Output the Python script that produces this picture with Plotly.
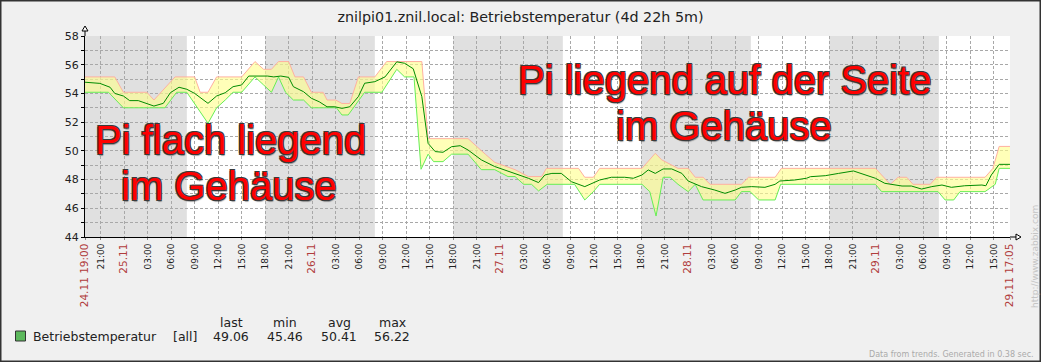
import plotly.graph_objects as go
from datetime import datetime, timedelta

# ---------------- data ----------------
START = datetime(2013, 11, 24, 19, 0)
END = START + timedelta(days=4, hours=22, minutes=5)

# (hours since start, value)
max_pts = [(0, 55.15), (3.8, 55.15), (4.9, 54.08), (7.9, 54.08), (8.8, 53.54), (11.5, 55.15),
           (14.0, 55.15), (14.7, 54.08), (15.7, 54.08), (16.8, 55.15), (20.0, 55.15), (21.7, 56.22),
           (22.8, 55.68), (23.8, 55.68), (24.7, 56.22), (26.0, 56.22), (26.8, 55.15), (27.9, 55.15),
           (28.9, 54.08), (30.4, 54.08), (30.9, 53.54), (32.0, 53.54), (32.8, 53.3), (33.8, 53.3),
           (34.9, 55.15), (37.0, 55.15), (38.5, 56.22), (43.0, 56.22), (43.8, 50.85), (48.9, 50.85),
           (51.1, 49.77), (52.3, 49.2), (54.9, 48.69), (56.6, 48.21), (58.3, 48.21), (58.9, 48.78),
           (63.0, 48.78), (63.8, 48.16), (64.9, 48.16), (65.7, 48.78), (71.1, 48.78), (72.8, 49.83),
           (73.6, 49.38), (75.7, 48.78), (77.0, 48.78), (77.9, 48.16), (78.9, 48.16), (79.8, 47.67),
           (83.8, 47.67), (84.7, 48.16), (88.1, 48.16), (88.9, 48.78), (100.9, 48.78), (102.8, 47.67),
           (103.8, 48.16), (104.9, 48.16), (105.7, 47.67), (107.9, 47.67), (108.7, 48.16), (114.9, 48.16),
           (115.9, 48.78), (116.7, 50.31), (118.08, 50.31)]

min_pts = [(0, 54.08), (3.0, 54.08), (4.9, 53.0), (10.2, 53.0), (11.7, 54.08), (13.0, 54.08),
           (15.7, 51.92), (16.8, 53.0), (17.9, 53.54), (18.9, 54.08), (20.0, 54.08), (21.7, 55.15),
           (22.8, 54.59), (23.8, 54.08), (24.7, 55.15), (25.6, 54.08), (26.6, 53.54), (27.9, 53.54),
           (28.9, 53.0), (32.1, 53.0), (32.8, 52.5), (33.6, 52.5), (35.7, 54.08), (37.9, 54.08),
           (39.8, 55.68), (40.8, 55.15), (42.0, 55.15), (42.9, 48.72), (43.8, 49.77), (44.5, 49.25),
           (45.7, 49.25), (46.8, 49.77), (48.9, 49.77), (50.6, 48.69), (52.3, 48.69), (54.0, 48.21),
           (54.9, 48.21), (56.0, 47.67), (57.0, 47.67), (57.9, 47.21), (59.0, 47.67), (62.5, 47.67),
           (63.8, 46.58), (64.9, 47.16), (65.7, 47.67), (71.1, 47.67), (72.1, 47.16), (72.9, 45.46),
           (73.8, 48.16), (74.7, 48.16), (75.7, 47.67), (77.0, 47.16), (77.9, 47.67), (78.9, 46.58),
           (83.0, 46.58), (83.8, 47.16), (84.9, 47.16), (86.0, 46.58), (88.1, 46.58), (88.8, 47.67),
           (100.9, 47.67), (101.7, 47.16), (108.9, 47.16), (109.8, 46.58), (110.9, 46.58), (111.7, 47.16),
           (114.9, 47.16), (116.2, 47.67), (116.7, 48.78), (118.08, 48.78)]

avg_pts = [(0, 54.78), (1.9, 54.70), (3.2, 54.43), (3.8, 54.0), (4.9, 53.82), (5.7, 53.5), (6.8, 53.5),
           (7.9, 53.31), (8.8, 53.12), (10.0, 53.31), (10.9, 54.05), (12.0, 54.43), (13.0, 54.29),
           (14.0, 54.0), (15.7, 53.31), (16.8, 53.82), (17.9, 54.05), (18.9, 54.47), (20.0, 54.59),
           (20.9, 55.21), (23.3, 55.21), (24.1, 55.15), (25.0, 55.21), (26.0, 55.12), (26.6, 54.47),
           (27.9, 54.12), (28.9, 53.66), (29.9, 53.42), (30.9, 53.07), (31.9, 53.07), (32.8, 52.96),
           (33.8, 53.07), (34.9, 53.78), (35.7, 54.71), (37.0, 54.82), (38.3, 55.15), (39.8, 56.2),
           (40.8, 56.1), (41.9, 55.72), (43.0, 53.78), (43.8, 50.52), (44.7, 49.95), (45.7, 49.9),
           (46.8, 50.29), (47.9, 50.36), (48.9, 50.06), (50.6, 49.37), (52.3, 48.91), (54.9, 48.44),
           (56.6, 48.09), (57.9, 47.79), (58.7, 48.32), (59.6, 48.43), (60.8, 48.43), (62.1, 47.85),
           (63.8, 47.51), (65.7, 47.97), (67.2, 48.16), (68.9, 48.16), (70.0, 48.09), (71.1, 48.32),
           (71.9, 48.67), (72.8, 48.43), (73.8, 48.74), (74.9, 48.74), (76.2, 48.43), (77.0, 47.9),
           (78.1, 47.67), (78.7, 47.51), (80.4, 47.27), (81.7, 47.04), (83.0, 47.27), (83.8, 47.46),
           (85.1, 47.51), (86.8, 47.46), (88.1, 47.67), (88.7, 47.9), (90.6, 47.97), (92.1, 48.09),
           (92.6, 48.2), (94.5, 48.27), (96.2, 48.43), (98.1, 48.6), (100.9, 48.09), (102.1, 47.74),
           (104.3, 47.55), (105.5, 47.55), (106.8, 47.34), (108.1, 47.51), (109.4, 47.62), (110.6, 47.46),
           (112.3, 47.57), (114.5, 47.62), (115.0, 47.57), (115.7, 48.32), (116.7, 49.06), (118.08, 49.06)]

tick_labels = ["24.11 19:00", "21:00",
               "25.11", "03:00", "06:00", "09:00", "12:00", "15:00", "18:00", "21:00",
               "26.11", "03:00", "06:00", "09:00", "12:00", "15:00", "18:00", "21:00",
               "27.11", "03:00", "06:00", "09:00", "12:00", "15:00", "18:00", "21:00",
               "28.11", "03:00", "06:00", "09:00", "12:00", "15:00", "18:00", "21:00",
               "29.11", "03:00", "06:00", "09:00", "12:00", "15:00", "29.11 17:05"]

work_days = ["2013-11-25", "2013-11-26", "2013-11-27", "2013-11-28", "2013-11-29"]
work_hours = (8, 18)

legend_name = "Betriebstemperatur"
legend_func = "[all]"
stat_names = ["last", "min", "avg", "max"]
stat_values = ["49.06", "45.46", "50.41", "56.22"]

title_text = "znilpi01.znil.local: Betriebstemperatur (4d 22h 5m)"
note_left = ["Pi flach liegend", "im Gehäuse"]
note_right = ["Pi liegend auf der Seite", "im Gehäuse"]

# ---------------- helpers ----------------
PL, PR, PT, PB = 85, 1010, 36, 237
W, H = 1041, 362


def px(x):
    return (x - PL) / (PR - PL)


def py(y):
    return (PB - y) / (PB - PT)


def t(h):
    return START + timedelta(hours=h)


FONT = "DejaVu Sans"

fig = go.Figure()
fig.add_trace(go.Scatter(x=[t(h) for h, _ in max_pts], y=[v for _, v in max_pts], mode="lines",
                         line=dict(color="#ffb0a0", width=1), hoverinfo="skip"))
fig.add_trace(go.Scatter(x=[t(h) for h, _ in min_pts], y=[v for _, v in min_pts], mode="lines",
                         line=dict(color="#66ee55", width=1), fill="tonexty",
                         fillcolor="rgba(255,255,140,0.62)", hoverinfo="skip"))
fig.add_trace(go.Scatter(x=[t(h) for h, _ in avg_pts], y=[v for _, v in avg_pts], mode="lines",
                         line=dict(color="#008c00", width=1), hoverinfo="skip"))

# ticks
offsets = [0] + list(range(2, 117, 3)) + [(END - START).total_seconds() / 3600]
tick_vals = [t(o) for o in offsets]
tick_text = []
for lab in tick_labels:
    if "." in lab:
        tick_text.append('<span style="color:#b03c3c;font-size:10.5px">%s</span>' % lab)
    else:
        tick_text.append(lab)

shapes = []
for d in work_days:
    day = datetime.strptime(d, "%Y-%m-%d")
    shapes.append(dict(type="rect", xref="x", yref="paper", x0=day + timedelta(hours=work_hours[0]),
                       x1=day + timedelta(hours=work_hours[1]), y0=0, y1=1, fillcolor="#ffffff",
                       line=dict(width=0), layer="below"))

# axis extensions and arrows
shapes.append(dict(type="line", xref="paper", yref="paper", x0=0, x1=0, y0=1, y1=py(29),
                   line=dict(color="#000000", width=1)))
shapes.append(dict(type="path", xref="paper", yref="paper",
                   path="M %f %f L %f %f L %f %f Z" % (px(82), py(31), px(85), py(26), px(88), py(31)),
                   line=dict(color="#000000", width=1), fillcolor="#ffffff"))
shapes.append(dict(type="line", xref="paper", yref="paper", x0=1, x1=px(1016), y0=0, y1=0,
                   line=dict(color="#000000", width=1)))
shapes.append(dict(type="path", xref="paper", yref="paper",
                   path="M %f %f L %f %f L %f %f Z" % (px(1016), py(234), px(1021), py(237), px(1016), py(240)),
                   line=dict(color="#000000", width=1), fillcolor="#ffffff"))
# legend square
shapes.append(dict(type="rect", xref="paper", yref="paper", x0=px(15.5), x1=px(25.5), y0=py(331), y1=py(341),
                   fillcolor="#5cb85c", line=dict(color="#333333", width=1)))
# frame
shapes.append(dict(type="rect", xref="paper", yref="paper", x0=px(0), x1=px(W), y0=py(H), y1=py(0),
                   line=dict(color="#333333", width=3), fillcolor="rgba(0,0,0,0)"))

ann = []
shadow = ("-1px -1px 0 #3a3a3a, 1px -1px 0 #3a3a3a, -1px 1px 0 #3a3a3a, 1px 1px 0 #3a3a3a, "
          "1px 2px 1px rgba(0,0,0,0.35)")
for (line, cx, cy) in [(note_left[0], 230, 140), (note_left[1], 229, 186),
                       (note_right[0], 725, 80), (note_right[1], 724, 126)]:
    ann.append(dict(text=line, xref="paper", yref="paper", x=px(cx), y=py(cy), xanchor="center",
                    yanchor="middle", showarrow=False,
                    font=dict(family="Liberation Sans", size=40, color="#ff0000", shadow=shadow)))

# legend texts
LEG = dict(family=FONT, size=12.5, color="#222222")
ann.append(dict(text=legend_name, xref="paper", yref="paper", x=px(31), y=py(336), xanchor="left",
                yanchor="middle", showarrow=False, font=LEG))
ann.append(dict(text=legend_func, xref="paper", yref="paper", x=px(185), y=py(336), xanchor="center",
                yanchor="middle", showarrow=False, font=LEG))
for name, val, cx in zip(stat_names, stat_values, [231, 285, 339, 392]):
    ann.append(dict(text=name, xref="paper", yref="paper", x=px(cx), y=py(322), xanchor="center",
                    yanchor="middle", showarrow=False, font=LEG))
    ann.append(dict(text=val, xref="paper", yref="paper", x=px(cx), y=py(336), xanchor="center",
                    yanchor="middle", showarrow=False, font=LEG))

ann.append(dict(text="Data from trends. Generated in 0.38 sec.", xref="paper", yref="paper",
                x=px(1036), y=py(354), xanchor="right", yanchor="middle", showarrow=False,
                font=dict(family=FONT, size=8, color="#aaaaaa")))
ann.append(dict(text="http://www.zabbix.com", xref="paper", yref="paper", x=px(1035), y=py(257),
                xanchor="center", yanchor="middle", textangle=-90, showarrow=False,
                font=dict(family=FONT, size=9, color="#c4c4c4")))

fig.update_layout(
    width=W, height=H,
    margin=dict(l=PL, r=W - PR, t=PT, b=H - PB),
    paper_bgcolor="#f0f0f0", plot_bgcolor="#e0e0e0",
    showlegend=False,
    title=dict(text=title_text, x=0.5, xref="container", xanchor="center", y=1 - 17 / H, yanchor="middle",
               font=dict(family=FONT, size=14.3, color="#222222")),
    shapes=shapes, annotations=ann,
)
fig.update_xaxes(type="date", range=[START, END], tickmode="array", tickvals=tick_vals, ticktext=tick_text,
                 tickangle=-90, tickfont=dict(family=FONT, size=9, color="#222222"),
                 showgrid=True, gridcolor="#a8a8a8", griddash="3px,2px", gridwidth=1,
                 showline=True, linecolor="#000000", linewidth=1, ticks="outside", ticklen=2,
                 tickcolor="#888888", zeroline=False)
fig.update_yaxes(range=[44, 58], tickmode="array", tickvals=list(range(44, 59)),
                 ticktext=[str(v) if v % 2 == 0 else "" for v in range(44, 59)],
                 tickfont=dict(family=FONT, size=11, color="#222222"),
                 showgrid=True, gridcolor="#a8a8a8", griddash="3px,2px", gridwidth=1,
                 showline=True, linecolor="#000000", linewidth=1, ticks="outside", ticklen=3,
                 tickcolor="#000000", zeroline=False)

fig.write_html("out.html", config={"displayModeBar": False, "staticPlot": True},
               post_script="document.body.style.margin='0px';document.body.style.overflow='hidden';")
